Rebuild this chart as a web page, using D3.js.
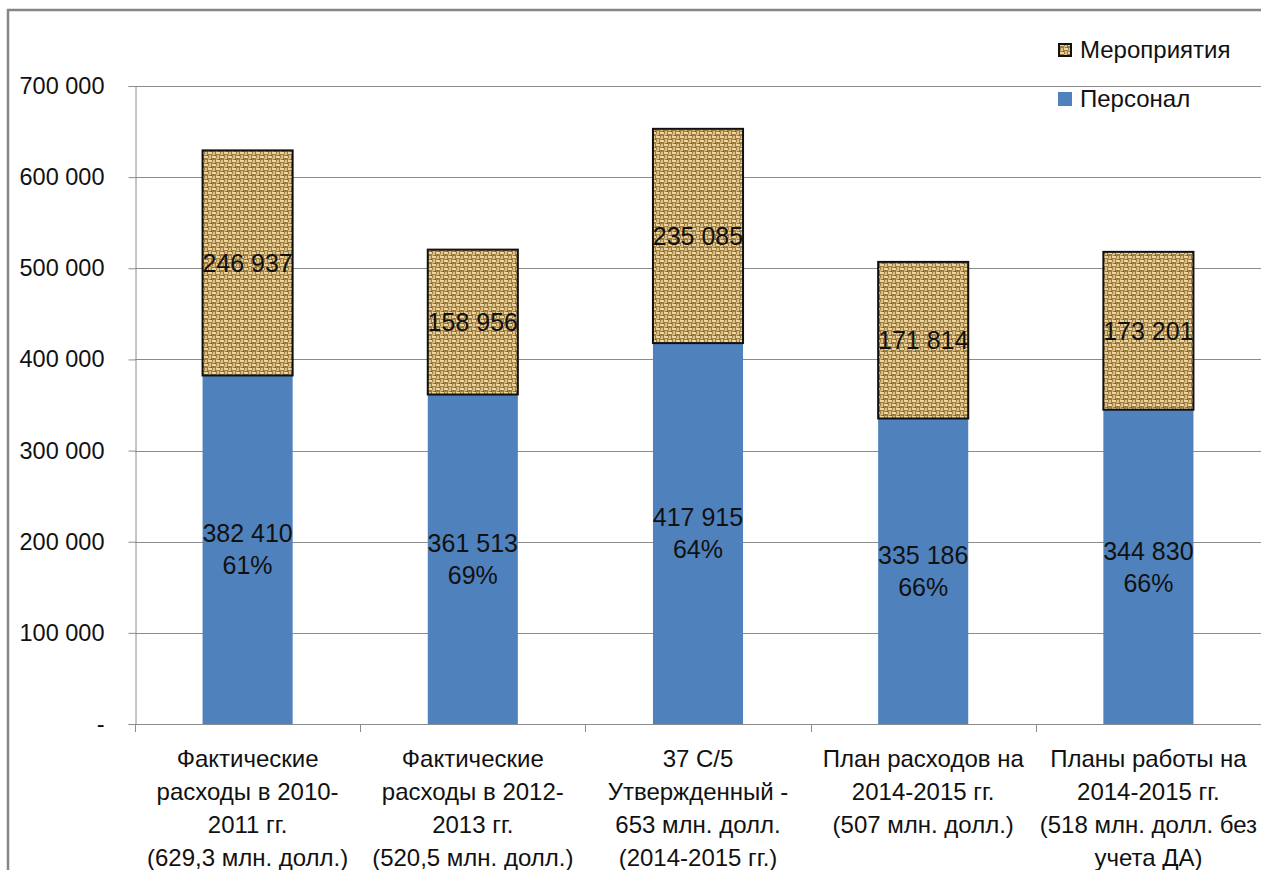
<!DOCTYPE html>
<html>
<head>
<meta charset="utf-8">
<script src="https://cdn.jsdelivr.net/npm/d3@7"></script>
<style>
  body { margin: 0; background: #fff; }
  svg { display: block; font-family: 'Liberation Sans', Arial, sans-serif; }
</style>
</head>
<body>
<div class="chart"></div>
<script>
// data
const categories = [
  ['Фактические', 'расходы в 2010-', '2011 гг.', '(629,3 млн. долл.)'],
  ['Фактические', 'расходы в 2012-', '2013 гг.', '(520,5 млн. долл.)'],
  ['37 С/5', 'Утвержденный -', '653 млн. долл.', '(2014-2015 гг.)'],
  ['План расходов на', '2014-2015 гг.', '(507 млн. долл.)'],
  ['Планы работы на', '2014-2015 гг.', '(518 млн. долл. без', 'учета ДА)']
];
const personnel = [382410, 361513, 417915, 335186, 344830];
const activities = [246937, 158956, 235085, 171814, 173201];
const personnelPct = ['61%', '69%', '64%', '66%', '66%'];
const seriesNames = ['Мероприятия', 'Персонал'];
const yTicks = [0, 100000, 200000, 300000, 400000, 500000, 600000, 700000];

const W = 1261, H = 870;
const plotLeft = 135, plotRight = 1261, plotTop = 86, plotBottom = 724;

const svg = d3.select('.chart').append('svg')
  .attr('width', W)
  .attr('height', H);

// burlap texture
const defs = svg.append('defs');
const pat = defs.append('pattern')
  .attr('id', 'burlap')
  .attr('patternUnits', 'userSpaceOnUse')
  .attr('width', 8).attr('height', 8);
pat.append('rect').attr('width', 8).attr('height', 8).attr('fill', '#9e7b3e');
const weave = [
  [0, 0, 4, 2, '#ecd7a2'], [4, 4, 4, 2, '#ecd7a2'],
  [5, 0, 2, 3, '#dcc086'], [1, 3, 2, 4, '#dcc086'],
  [4, 2, 1, 1, '#cdb075'], [0, 6, 1, 2, '#cdb075'],
  [3, 7, 1, 1, '#75552a'], [7, 3, 1, 1, '#75552a']
];
weave.forEach(d => {
  pat.append('rect')
    .attr('x', d[0]).attr('y', d[1])
    .attr('width', d[2]).attr('height', d[3])
    .attr('fill', d[4]);
});

// outer frame
svg.append('path')
  .attr('d', `M8,${H} V10 H${W}`)
  .attr('fill', 'none')
  .attr('stroke', '#868686')
  .attr('stroke-width', 2.5);

const x = d3.scaleBand()
  .domain(d3.range(categories.length))
  .range([plotLeft, plotRight])
  .paddingInner(0.6)
  .paddingOuter(0.3);

const y = d3.scaleLinear()
  .domain([0, 700000])
  .range([plotBottom, plotTop]);

const fmt = v => v === 0 ? '-' : d3.format(',')(v).replace(/,/g, ' ');

// gridlines
svg.append('g')
  .selectAll('line')
  .data(yTicks)
  .enter()
  .append('line')
    .attr('x1', plotLeft)
    .attr('x2', W)
    .attr('y1', d => Math.round(y(d)) + 0.5)
    .attr('y2', d => Math.round(y(d)) + 0.5)
    .attr('stroke', '#8c8c8c')
    .attr('stroke-width', 1.2);

// y axis
const yAxis = svg.append('g')
  .attr('transform', `translate(${plotLeft + 0.5},0)`)
  .call(d3.axisLeft(y).tickValues(yTicks).tickFormat(fmt).tickSize(7).tickPadding(24));
yAxis.select('.domain').attr('stroke', '#8c8c8c');
yAxis.selectAll('.tick line').attr('stroke', '#8c8c8c');
yAxis.selectAll('.tick text')
  .attr('font-size', 23.5)
  .attr('fill', '#111')
  .attr('font-family', 'Liberation Sans, Arial, sans-serif');

// x category ticks
const step = x.step();
svg.append('g')
  .selectAll('line')
  .data(d3.range(categories.length + 1))
  .enter()
  .append('line')
    .attr('x1', i => Math.round(plotLeft + i * step) + 0.5)
    .attr('x2', i => Math.round(plotLeft + i * step) + 0.5)
    .attr('y1', plotBottom)
    .attr('y2', plotBottom + 8)
    .attr('stroke', '#8c8c8c');

// bars
svg.append('g')
  .selectAll('rect')
  .data(personnel)
  .enter()
  .append('rect')
    .attr('x', (d, i) => x(i))
    .attr('width', x.bandwidth())
    .attr('y', d => y(d))
    .attr('height', d => y(0) - y(d))
    .attr('fill', '#4f81bd');

svg.append('g')
  .selectAll('rect')
  .data(activities)
  .enter()
  .append('rect')
    .attr('x', (d, i) => x(i))
    .attr('width', x.bandwidth())
    .attr('y', (d, i) => y(personnel[i] + d))
    .attr('height', (d, i) => y(personnel[i]) - y(personnel[i] + d))
    .attr('fill', 'url(#burlap)')
    .attr('stroke', '#111')
    .attr('stroke-width', 2);

// labels
const labels = svg.append('g')
  .attr('text-anchor', 'middle')
  .attr('font-size', 25)
  .attr('fill', '#111');

activities.forEach((d, i) => {
  const mid = (y(personnel[i]) + y(personnel[i] + d)) / 2;
  labels.append('text')
    .attr('x', x(i) + x.bandwidth() / 2)
    .attr('y', mid)
    .attr('dy', '0.35em')
    .text(fmt(d));
});

personnel.forEach((d, i) => {
  const mid = (y(0) + y(d)) / 2;
  const cx = x(i) + x.bandwidth() / 2;
  labels.append('text')
    .attr('x', cx)
    .attr('y', mid - 16)
    .attr('dy', '0.35em')
    .text(fmt(d));
  labels.append('text')
    .attr('x', cx)
    .attr('y', mid + 16)
    .attr('dy', '0.35em')
    .text(personnelPct[i]);
});

// category labels
const cats = svg.append('g')
  .attr('text-anchor', 'middle')
  .attr('font-size', 24)
  .attr('fill', '#111');
categories.forEach((lines, i) => {
  const t = cats.append('text')
    .attr('x', x(i) + x.bandwidth() / 2)
    .attr('y', 767);
  lines.forEach((ln, j) => {
    t.append('tspan')
      .attr('x', x(i) + x.bandwidth() / 2)
      .attr('dy', j === 0 ? 0 : 33)
      .text(ln);
  });
});

// legend
const legend = svg.append('g').attr('font-size', 24).attr('fill', '#111');
legend.append('rect')
  .attr('x', 1059).attr('y', 44).attr('width', 12).attr('height', 12)
  .attr('fill', 'url(#burlap)').attr('stroke', '#111').attr('stroke-width', 2);
legend.append('text').attr('x', 1080).attr('y', 58).text(seriesNames[0]);
legend.append('rect')
  .attr('x', 1058).attr('y', 92).attr('width', 14).attr('height', 14)
  .attr('fill', '#4f81bd');
legend.append('text').attr('x', 1080).attr('y', 107).text(seriesNames[1]);
</script>
</body>
</html>
